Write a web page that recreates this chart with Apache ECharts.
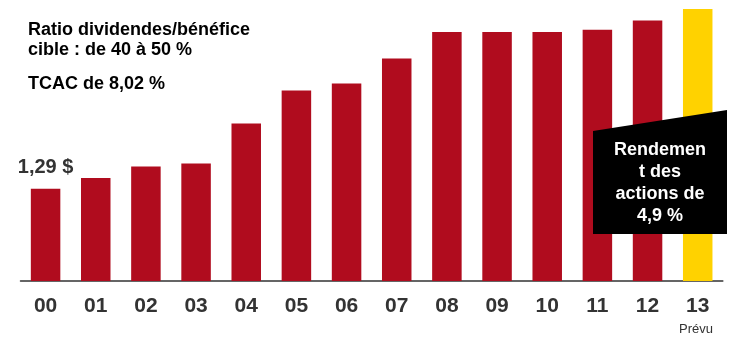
<!DOCTYPE html>
<html>
<head>
<meta charset="utf-8">
<script src="https://cdn.jsdelivr.net/npm/echarts@6/dist/echarts.min.js"></script>
<style>
  html, body { margin: 0; padding: 0; background: #fff; }
  #chart { width: 735px; height: 339px; }
</style>
</head>
<body>
<div id="chart"></div>
<script>
const years = ['00', '01', '02', '03', '04', '05', '06', '07', '08', '09', '10', '11', '12', '13'];
const dividends = [1.29, 1.44, 1.60, 1.64, 2.20, 2.66, 2.76, 3.11, 3.48, 3.48, 3.48, 3.51, 3.64, 3.80];
const forecastIndex = 13;

const font = '"Liberation Sans", Arial, sans-serif';
const red = '#b00c1e';
const yellow = '#ffd200';

const chart = echarts.init(document.getElementById('chart'));

const barData = dividends.map((v, i) => {
  const item = { value: v };
  if (i === forecastIndex) item.itemStyle = { color: yellow };
  if (i === 0) {
    item.label = {
      show: true,
      position: 'top',
      distance: 11,
      formatter: p => p.value.toFixed(2).replace('.', ',') + ' $',
      color: '#333',
      fontSize: 20,
      fontWeight: 'bold',
      fontFamily: font
    };
  }
  return item;
});

const option = {
  animation: false,
  grid: { left: 20.5, right: 12.2, top: 9, bottom: 58 },
  xAxis: {
    type: 'category',
    data: years,
    axisLine: { lineStyle: { color: '#333', width: 1.5 } },
    axisTick: { show: false },
    axisLabel: {
      margin: 15,
      color: '#333',
      fontSize: 21,
      fontWeight: 'bold',
      fontFamily: font
    }
  },
  yAxis: {
    type: 'value',
    min: 0,
    max: 3.8,
    show: false,
    splitLine: { show: false }
  },
  series: [
    {
      type: 'bar',
      data: barData,
      barWidth: 29.5,
      itemStyle: { color: red }
    }
  ],
  graphic: [
    {
      type: 'text', left: 28, top: 20,
      style: {
        text: 'Ratio dividendes/bénéfice\ncible : de 40 à 50 %',
        fill: '#000', font: 'bold 18px ' + font, lineHeight: 20
      }
    },
    {
      type: 'text', left: 28, top: 75,
      style: { text: 'TCAC de 8,02 %', fill: '#000', font: 'bold 18px ' + font }
    },
    {
      type: 'polygon',
      shape: { points: [[593, 131], [727, 110], [727, 234], [593, 234]] },
      style: { fill: '#000' },
      z: 10
    },
    {
      type: 'text', x: 660, y: 183,
      style: {
        text: 'Rendemen\nt des\nactions de\n4,9 %',
        fill: '#fff', font: 'bold 18px ' + font,
        lineHeight: 22, align: 'center', verticalAlign: 'middle'
      },
      z: 11
    },
    {
      type: 'text', x: 696, y: 329,
      style: {
        text: 'Prévu', fill: '#333', font: '13px ' + font,
        align: 'center', verticalAlign: 'middle'
      }
    }
  ]
};

chart.setOption(option);
</script>
</body>
</html>
